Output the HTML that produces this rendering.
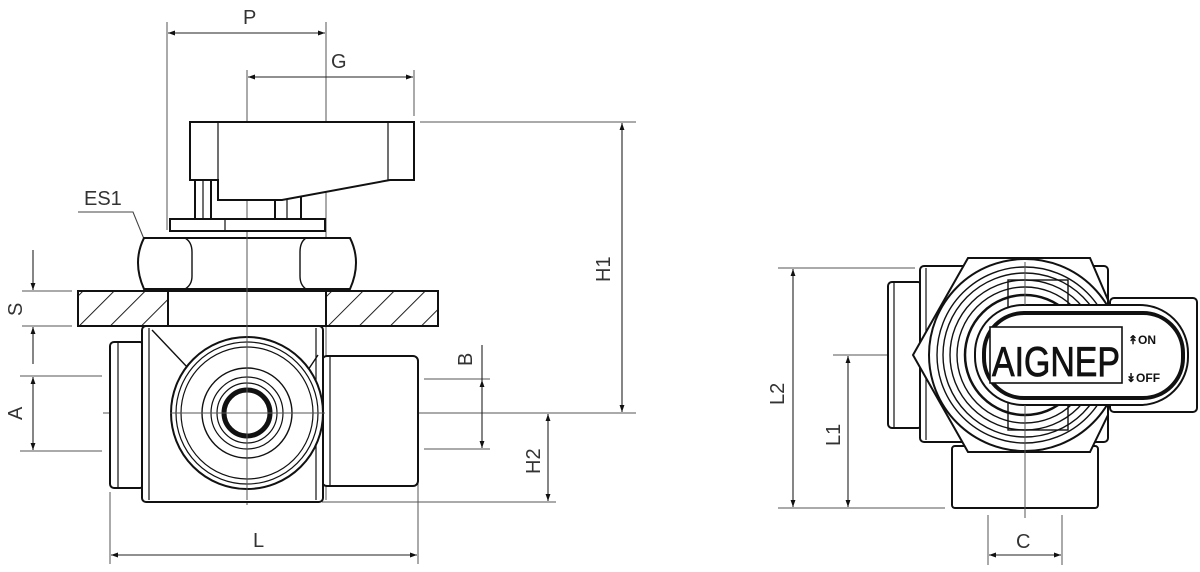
<!DOCTYPE html>
<html><head><meta charset="utf-8"><style>
html,body{margin:0;padding:0;background:#fff;}
svg{display:block;}
text{font-family:"Liberation Sans",sans-serif;fill:#333;}
</style></head><body>
<svg width="1200" height="572" viewBox="0 0 1200 572" xmlns="http://www.w3.org/2000/svg">
<defs>
<marker id="a" viewBox="0 0 10 10" refX="10" refY="5" markerWidth="7" markerHeight="7" orient="auto-start-reverse" markerUnits="userSpaceOnUse"><path d="M0,1.5 L10,5 L0,8.5z" fill="#111"/></marker>
<pattern id="h" width="22" height="22" patternUnits="userSpaceOnUse" patternTransform="rotate(45)"><line x1="0" y1="0" x2="0" y2="22" stroke="#222" stroke-width="2"/></pattern>
</defs>
<g stroke="#555" stroke-width="1" fill="none">
<line x1="167" y1="22" x2="167" y2="230"/>
<line x1="326" y1="22" x2="326" y2="500"/>
<line x1="247" y1="70" x2="247" y2="505"/>
<line x1="414" y1="70" x2="414" y2="116"/>
<line x1="420" y1="122" x2="636" y2="122"/>
<line x1="103" y1="413" x2="600" y2="413"/>
<line x1="598" y1="413" x2="636" y2="413"/>
<line x1="22" y1="291" x2="72" y2="291"/>
<line x1="22" y1="326" x2="72" y2="326"/>
<line x1="20" y1="376" x2="102" y2="376"/>
<line x1="20" y1="451" x2="102" y2="451"/>
<line x1="424" y1="379" x2="490" y2="379"/>
<line x1="424" y1="449" x2="490" y2="449"/>
<line x1="322" y1="502" x2="556" y2="502"/>
<line x1="110" y1="492" x2="110" y2="564"/>
<line x1="418" y1="476" x2="418" y2="564"/>
<line x1="778" y1="268" x2="915" y2="268"/>
<line x1="778" y1="508" x2="945" y2="508"/>
<line x1="833" y1="355" x2="1000" y2="355"/>
<line x1="988" y1="515" x2="988" y2="565"/>
<line x1="1062" y1="515" x2="1062" y2="565"/>
</g>
<g stroke="#222" stroke-width="1.1" fill="none">
<line x1="168" y1="33" x2="325" y2="33" marker-start="url(#a)" marker-end="url(#a)"/>
<line x1="248" y1="77" x2="413" y2="77" marker-start="url(#a)" marker-end="url(#a)"/>
<line x1="622" y1="123" x2="622" y2="412" marker-start="url(#a)" marker-end="url(#a)"/>
<line x1="33" y1="250" x2="33" y2="290" marker-end="url(#a)"/>
<line x1="33" y1="327" x2="33" y2="364" marker-start="url(#a)"/>
<line x1="33" y1="377" x2="33" y2="450" marker-start="url(#a)" marker-end="url(#a)"/>
<line x1="482" y1="345" x2="482" y2="380"/>
<line x1="482" y1="380" x2="482" y2="448" marker-start="url(#a)" marker-end="url(#a)"/>
<line x1="548" y1="414" x2="548" y2="501" marker-start="url(#a)" marker-end="url(#a)"/>
<line x1="111" y1="555" x2="417" y2="555" marker-start="url(#a)" marker-end="url(#a)"/>
<line x1="793" y1="269" x2="793" y2="507" marker-start="url(#a)" marker-end="url(#a)"/>
<line x1="848" y1="356" x2="848" y2="507" marker-start="url(#a)" marker-end="url(#a)"/>
<line x1="989" y1="555" x2="1061" y2="555" marker-start="url(#a)" marker-end="url(#a)"/>
<polyline points="78,212 133,212 155,266" stroke="#444"/>
</g>
<g font-size="20">
<text x="243" y="24">P</text>
<text x="331" y="68">G</text>
<text x="84" y="205">ES1</text>
<text x="253" y="547">L</text>
<text x="1016" y="548">C</text>
<text transform="translate(610,282) rotate(-90)">H1</text>
<text transform="translate(22,316) rotate(-90)">S</text>
<text transform="translate(22,420) rotate(-90)">A</text>
<text transform="translate(472,366) rotate(-90)">B</text>
<text transform="translate(540,474) rotate(-90)">H2</text>
<text transform="translate(784,405) rotate(-90)">L2</text>
<text transform="translate(840,446) rotate(-90)">L1</text>
</g>
<!-- LEFT VALVE -->
<g stroke="#111" stroke-width="2" fill="#fff">
<rect x="195" y="178" width="16" height="42"/>
<line x1="203" y1="180" x2="203" y2="218" stroke-width="1.2"/>
<rect x="275" y="196" width="26" height="24"/>
<line x1="287" y1="198" x2="287" y2="218" stroke-width="1.2"/>
<path d="M190,122 L414,122 L414,180 L390,180 L282,200 L218,200 L218,180 L190,180 Z"/>
<line x1="218" y1="122" x2="218" y2="180" stroke-width="1.2"/>
<line x1="388" y1="122" x2="388" y2="180" stroke-width="1.2"/>
<rect x="170" y="219" width="155" height="12"/>
<line x1="225" y1="219" x2="225" y2="231" stroke-width="1.2"/>
<!-- hex nut -->
<path d="M144,238 L350,238 Q362,262 350,289 L144,289 Q132,262 144,238 Z"/>
<path d="M185,238 Q192,242 192,252 L192,276 Q192,285 185,289" fill="none" stroke-width="1.4"/>
<path d="M306,238 Q300,242 300,252 L300,276 Q300,285 306,289" fill="none" stroke-width="1.4"/>
<rect x="78" y="291" width="360" height="35" fill="url(#h)"/>
<rect x="168" y="291" width="158" height="35" fill="#fff"/>
<rect x="110" y="342" width="34" height="146" rx="4"/>
<line x1="118" y1="342" x2="118" y2="488" stroke-width="1.2"/>
<rect x="322" y="356" width="96" height="130" rx="5"/>
<line x1="330" y1="356" x2="330" y2="486" stroke-width="1.2"/>
<rect x="142" y="326" width="181" height="176" rx="4"/>
<line x1="149" y1="328" x2="149" y2="500" stroke-width="1.2"/>
<line x1="316" y1="328" x2="316" y2="500" stroke-width="1.2"/>
<line x1="152" y1="330" x2="188" y2="368" stroke-width="1.4"/>
<line x1="318" y1="355" x2="308" y2="370" stroke-width="1.4"/>
<circle cx="247" cy="413" r="76"/>
<circle cx="247" cy="413" r="71" fill="none" stroke-width="1.2"/>
<circle cx="247" cy="413" r="66" fill="none" stroke-width="1.2"/>
<circle cx="247" cy="413" r="45" fill="none" stroke-width="1.4"/>
<circle cx="247" cy="413" r="36" fill="none" stroke-width="1.2"/>
<circle cx="247" cy="413" r="30" fill="none" stroke-width="1.2"/>
<circle cx="247" cy="413" r="23" fill="none" stroke-width="5"/>
</g>
<g stroke="#555" stroke-width="1"><line x1="247" y1="236" x2="247" y2="500"/><line x1="170" y1="413" x2="325" y2="413"/></g>
<!-- RIGHT VIEW -->
<g stroke="#111" stroke-width="2" fill="#fff">
<rect x="952" y="446" width="146" height="62" rx="3"/>
<rect x="888" y="282" width="34" height="146" rx="4"/>
<line x1="894" y1="282" x2="894" y2="428" stroke-width="1.2"/>
<rect x="920" y="266" width="188" height="176" rx="4"/>
<line x1="926" y1="268" x2="926" y2="440" stroke-width="1.2"/>
<path d="M968,258 L1090,258 L1108,300 L1108,415 L1090,452 L968,452 L913,355 Z"/>
<circle cx="1025" cy="355" r="96"/>
<circle cx="1025" cy="355" r="88" fill="none" stroke-width="1.4"/>
<circle cx="1025" cy="355" r="82" fill="none" stroke-width="1.4"/>
<circle cx="1025" cy="355" r="75" fill="none" stroke-width="1.4"/>
<circle cx="1025" cy="355" r="68" fill="none" stroke-width="1.4"/>
<circle cx="1025" cy="355" r="60" fill="none" stroke-width="2.5"/>
<rect x="1008" y="280" width="60" height="150" fill="none" stroke-width="1.4"/>
<rect x="1110" y="298" width="87" height="114" rx="4"/>
<rect x="975" y="305" width="213" height="100" rx="48"/>
<rect x="984" y="313" width="199" height="85" rx="40" fill="none" stroke-width="4"/>
<rect x="990" y="327" width="132" height="56" fill="#fff" stroke-width="1.6"/>
</g>
<g stroke="#555" stroke-width="1"><line x1="1025" y1="262" x2="1025" y2="305"/><line x1="1025" y1="405" x2="1025" y2="518"/></g>
<text x="992" y="376" font-size="42" textLength="128" lengthAdjust="spacingAndGlyphs" style="fill:#111;stroke:#111;stroke-width:0.8;">AIGNEP</text>
<text x="1128" y="344" font-size="12" font-weight="bold" style="fill:#111">↟ON</text>
<text x="1126" y="382" font-size="12" font-weight="bold" style="fill:#111">↡OFF</text>
</svg>
</body></html>
